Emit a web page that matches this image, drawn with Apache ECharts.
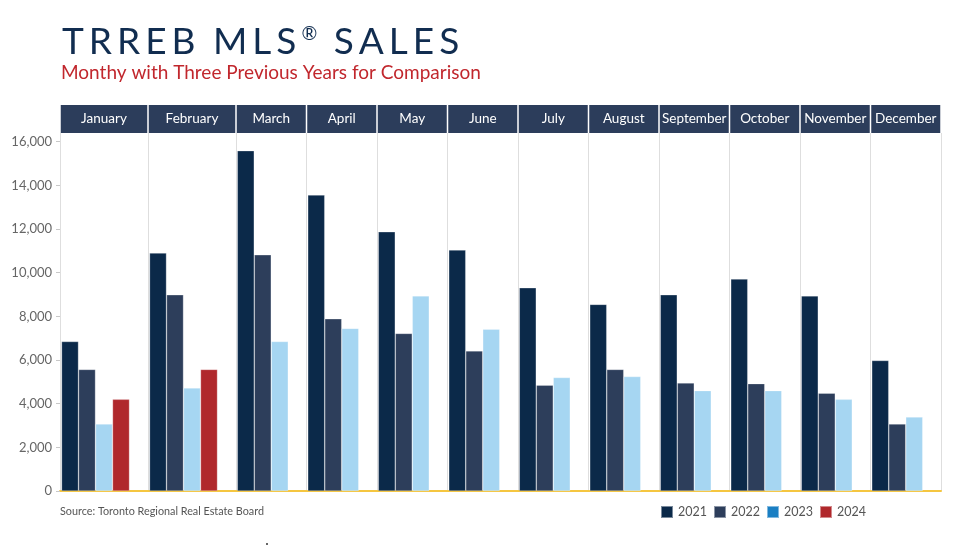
<!DOCTYPE html>
<html>
<head>
<meta charset="utf-8">
<script src="https://cdn.jsdelivr.net/npm/echarts@6/dist/echarts.min.js"></script>
<style>
  html, body { margin: 0; padding: 0; background: #ffffff; }
  #chart { width: 968px; height: 546px; }
</style>
</head>
<body>
<div id="chart"></div>
<script>
// ---- data ----
const months = ['January', 'February', 'March', 'April', 'May', 'June', 'July', 'August', 'September', 'October', 'November', 'December'];
const years = ['2021', '2022', '2023', '2024'];
const sales2021 = [6850, 10900, 15590, 13560, 11875, 11040, 9310, 8550, 8990, 9710, 8940, 5980];
const sales2022 = [5570, 8990, 10820, 7890, 7220, 6420, 4850, 5570, 4950, 4920, 4480, 3070];
const sales2023 = [3070, 4720, 6850, 7450, 8940, 7410, 5200, 5245, 4600, 4600, 4200, 3390];
const sales2024 = [4200, 5570, null, null, null, null, null, null, null, null, null, null];
const yTicks = [0, 2000, 4000, 6000, 8000, 10000, 12000, 14000, 16000];

// ---- styling ----
const barColors = ['#0b2949', '#2d3e5b', '#a6d6f2', '#b0282c'];
const legendColors = ['#0b2949', '#2d3e5b', '#1a7fc3', '#b0282c'];
const headerColor = '#2c3d5b';
const fontFam = 'Lato, "Open Sans", sans-serif';
const allSeries = [sales2021, sales2022, sales2023, sales2024];

// Jan-Feb occupy a wider column (4 bars + space), other months narrower (3 bars + space)
const splitAt = 2;
const gridDefs = [
  { left: 60, width: 176, from: 0, to: splitAt, band: 88 },
  { left: 236, width: 705, from: splitAt, to: 12, band: 70.5 }
];
const gridTop = 133, gridHeight = 358;

const grids = [], xAxes = [], yAxes = [], series = [];
gridDefs.forEach((g, gi) => {
  grids.push({ left: g.left, width: g.width, top: gridTop, height: gridHeight, containLabel: false });
  const cats = months.slice(g.from, g.to);
  // bottom axis: gold base line + vertical separators
  xAxes.push({
    type: 'category', gridIndex: gi, data: cats, position: 'bottom',
    axisLine: { show: true, lineStyle: { color: '#f5c640', width: 2 } },
    axisTick: { show: false },
    axisLabel: { show: false },
    splitLine: { show: true, interval: 0, lineStyle: { color: '#dedede', width: 1 } }
  });
  // top axis: month header cells
  xAxes.push({
    type: 'category', gridIndex: gi, data: cats, position: 'top',
    axisLine: { show: false }, axisTick: { show: false },
    axisLabel: {
      interval: 0, margin: 0, color: '#ffffff', fontSize: 13.5, fontFamily: fontFam,
      backgroundColor: headerColor, width: g.band - 1.5, height: 28, lineHeight: 28,
      align: 'center', verticalAlign: 'bottom', overflow: 'none'
    }
  });
  yAxes.push({
    type: 'value', gridIndex: gi, min: 0, max: 16400, interval: 2000,
    axisLine: { show: false },
    axisTick: { show: gi === 0, length: 4, customValues: yTicks, lineStyle: { color: '#c8c8c8' } },
    axisLabel: {
      show: gi === 0, customValues: yTicks, margin: 8, color: '#666666', fontSize: 13, fontFamily: fontFam,
      formatter: v => v > 16000 ? '' : v.toLocaleString('en-US')
    },
    splitLine: { show: false }
  });
  years.forEach((yr, si) => {
    series.push({
      name: yr, type: 'bar', xAxisIndex: gi * 2, yAxisIndex: gi,
      data: allSeries[si].slice(g.from, g.to),
      barWidth: 17, barGap: '0%',
      itemStyle: { color: barColors[si], borderColor: 'rgba(255,255,255,0.45)', borderWidth: 0.6 },
      emphasis: { disabled: true }
    });
  });
  if (gi === 0) {
    // empty spacer slot so the Jan/Feb bars sit to the left of their column
    series.push({
      name: 'spacer', type: 'bar', xAxisIndex: 0, yAxisIndex: 0,
      data: cats.map(() => null), barWidth: 17, barGap: '0%', silent: true
    });
  }
});

// title with tracking (letter spacing) and superscript ®
const titleText = 'TRREB MLS® SALES';
const titleRich = titleText.split('').map(ch =>
  ch === '®' ? '{r|®}' : ch === ' ' ? '{sp| }' : '{c|' + ch + '}'
).join('');

const chart = echarts.init(document.getElementById('chart'), null, { renderer: 'canvas' });
chart.setOption({
  animation: false,
  backgroundColor: '#ffffff',
  title: [
    { text: titleRich, left: 57, top: 15,
      textStyle: {
        rich: {
          c: { fontSize: 37, fontWeight: 'normal', color: '#112d50', fontFamily: fontFam, padding: [0, 5, 0, 0], lineHeight: 44 },
          sp: { fontSize: 37, fontWeight: 'normal', color: '#112d50', fontFamily: fontFam, padding: [0, 3, 0, 0], lineHeight: 44 },
          r: { fontSize: 19, fontWeight: 'normal', color: '#112d50', fontFamily: fontFam, padding: [4, 4, 12, 0], lineHeight: 44, verticalAlign: 'top' }
        }
      } },
    { text: 'Monthy with Three Previous Years for Comparison', left: 56, top: 58,
      textStyle: { fontSize: 19, fontWeight: 'normal', color: '#c1272d', fontFamily: fontFam } },
    { text: 'Source: Toronto Regional Real Estate Board', left: 55, top: 501,
      textStyle: { fontSize: 10.8, fontWeight: 'normal', color: '#555555', fontFamily: fontFam } }
  ],
  legend: {
    left: 655, top: 500, itemWidth: 12, itemHeight: 12, itemGap: 6, icon: 'rect',
    textStyle: { color: '#555555', fontSize: 12.5, fontFamily: fontFam },
    data: years.map((y, i) => ({ name: y, itemStyle: { color: legendColors[i] } })),
    selectedMode: false
  },
  grid: grids,
  xAxis: xAxes,
  yAxis: yAxes,
  series: series,
  graphic: [
    { type: 'circle', shape: { cx: 267, cy: 544, r: 1 }, style: { fill: '#333' }, silent: true }
  ]
});
</script>
</body>
</html>
